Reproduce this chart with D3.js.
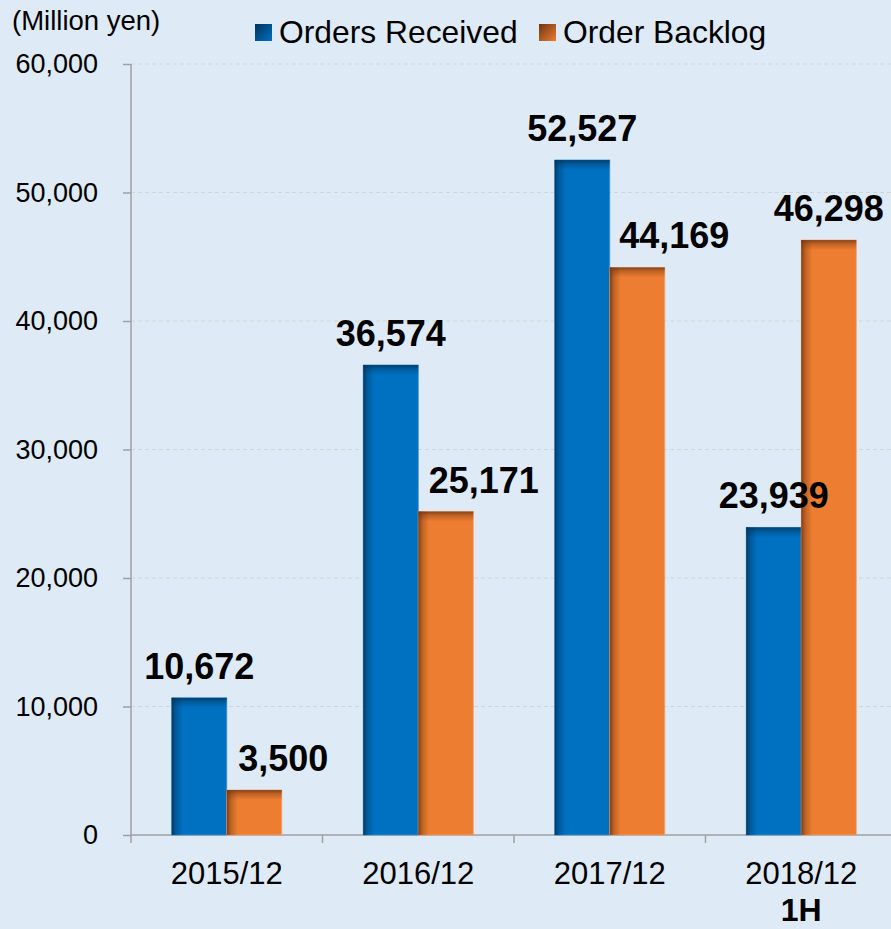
<!DOCTYPE html>
<html><head><meta charset="utf-8">
<script src="https://cdn.jsdelivr.net/npm/d3@7"></script>
<style>
html,body{margin:0;padding:0;background:#DEEAF6;}
svg{display:block;font-family:Arial,"Liberation Sans",sans-serif;}
</style></head>
<body>
<svg id="chart" width="891" height="929"></svg>
<script>
const categories = ["2015/12","2016/12","2017/12","2018/12"];
const subLabels = ["","","","1H"];
const seriesNames = ["Orders Received","Order Backlog"];
const ordersReceived = [10672, 36574, 52527, 23939];
const orderBacklog = [3500, 25171, 44169, 46298];
const yTicks = [0,10000,20000,30000,40000,50000,60000];
const unitLabel = "(Million yen)";

// layout / style config
const backlogLabelShift = [29, 38, 37, 0];
const colors = {blue:"#0070C0", blueDark:"#00335A", orange:"#ED7D31", orangeDark:"#6E3410"};

const svg = d3.select("#chart");
svg.append("rect").attr("width",891).attr("height",929).attr("fill","#DEEAF6");

const pLeft = 131, pRight = 897, pTop = 64, pBottom = 835;
const x0 = d3.scaleBand().domain(categories).range([pLeft, pRight]).padding(0);
const x1 = d3.scaleBand().domain(seriesNames).range([0, x0.bandwidth()]).paddingInner(0).paddingOuter(0.74);
const y = d3.scaleLinear().domain([0,60000]).range([pBottom, pTop]);

const defs = svg.append("defs");
function grads(id, dark){
  const h = defs.append("linearGradient").attr("id",id+"L").attr("x1","0").attr("x2","1").attr("y1","0").attr("y2","0");
  h.append("stop").attr("offset","0").attr("stop-color",dark).attr("stop-opacity",0.85);
  h.append("stop").attr("offset","0.4").attr("stop-color",dark).attr("stop-opacity",0.35);
  h.append("stop").attr("offset","1").attr("stop-color",dark).attr("stop-opacity",0);
  const v = defs.append("linearGradient").attr("id",id+"T").attr("x1","0").attr("x2","0").attr("y1","0").attr("y2","1");
  v.append("stop").attr("offset","0").attr("stop-color",dark).attr("stop-opacity",0.8);
  v.append("stop").attr("offset","0.4").attr("stop-color",dark).attr("stop-opacity",0.35);
  v.append("stop").attr("offset","1").attr("stop-color",dark).attr("stop-opacity",0);
}
grads("gb", colors.blueDark);
grads("go", colors.orangeDark);

// gridlines
svg.append("g").selectAll("line").data(yTicks.filter(d=>d>0)).join("line")
  .attr("x1",pLeft).attr("x2",891).attr("y1",d=>y(d)).attr("y2",d=>y(d))
  .attr("stroke","#D2D6DA").attr("stroke-width",1).attr("stroke-dasharray","4,3");

// y axis
const yAxis = d3.axisLeft(y).tickValues(yTicks).tickFormat(d3.format(",")).tickSize(8).tickPadding(25);
const ya = svg.append("g").attr("transform",`translate(${pLeft},0)`).call(yAxis);
ya.select(".domain").attr("stroke","#A0A0A0").attr("stroke-width",1.5).attr("d",`M0,${pTop}V${pBottom}`);
ya.selectAll(".tick line").attr("stroke","#A0A0A0").attr("stroke-width",1.5);
ya.selectAll(".tick text").attr("font-size",27).attr("fill","#000").attr("font-family","Arial, 'Liberation Sans', sans-serif");

// x axis
svg.append("line").attr("x1",pLeft).attr("x2",891).attr("y1",pBottom).attr("y2",pBottom).attr("stroke","#A0A0A0").attr("stroke-width",1.5);
svg.append("g").selectAll("line").data(categories).join("line")
  .attr("x1",d=>x0(d)).attr("x2",d=>x0(d)).attr("y1",pBottom).attr("y2",pBottom+8)
  .attr("stroke","#A0A0A0").attr("stroke-width",1.5);
svg.append("g").selectAll("text").data(categories).join("text")
  .attr("x",d=>x0(d)+x0.bandwidth()/2).attr("y",884).attr("text-anchor","middle")
  .attr("font-size",31).attr("fill","#000").text(d=>d);
svg.append("g").selectAll("text").data(subLabels).join("text")
  .attr("x",(d,i)=>x0(categories[i])+x0.bandwidth()/2).attr("y",921).attr("text-anchor","middle")
  .attr("font-size",32).attr("font-weight","bold").attr("fill","#000").text(d=>d);

// bars
const data = [];
categories.forEach((c,i)=>{
  data.push({cat:c, s:seriesNames[0], v:ordersReceived[i], i, k:"b"});
  data.push({cat:c, s:seriesNames[1], v:orderBacklog[i], i, k:"o"});
});
const bw = x1.bandwidth();
const bars = svg.append("g").selectAll("g").data(data).join("g")
  .attr("transform",d=>`translate(${x0(d.cat)+x1(d.s)},0)`);
bars.append("rect").attr("x",0).attr("y",d=>y(d.v)).attr("width",bw).attr("height",d=>y(0)-y(d.v))
  .attr("fill",d=>d.k==="b"?colors.blue:colors.orange)
  .attr("stroke",d=>d.k==="b"?"#3A8FD0":"#F2A070").attr("stroke-width",0.8);
bars.append("rect").attr("x",0).attr("y",d=>y(d.v)).attr("width",11).attr("height",d=>y(0)-y(d.v))
  .attr("fill",d=>`url(#g${d.k}L)`);
bars.append("rect").attr("x",0).attr("y",d=>y(d.v)).attr("width",bw).attr("height",d=>Math.min(10,y(0)-y(d.v)))
  .attr("fill",d=>`url(#g${d.k}T)`);

// value labels
svg.append("g").selectAll("text").data(data).join("text")
  .attr("x",d=>x0(d.cat)+x1(d.s)+bw/2+(d.k==="o"?backlogLabelShift[d.i]:0))
  .attr("y",d=>y(d.v)-19).attr("text-anchor","middle")
  .attr("font-size",36).attr("font-weight","bold").attr("fill","#000")
  .text(d=>d3.format(",")(d.v));

// unit label
svg.append("text").attr("x",12).attr("y",30).attr("font-size",27.5).attr("fill","#000").text(unitLabel);

// legend
const legend = svg.append("g");
const legX = [255, 539];
const legFill = [colors.blue, colors.orange];
const legDark = [colors.blueDark, colors.orangeDark];
seriesNames.forEach((s,i)=>{
  const lg = defs.append("linearGradient").attr("id","leg"+i).attr("x1","0").attr("y1","0").attr("x2","1").attr("y2","1");
  lg.append("stop").attr("offset","0").attr("stop-color",legDark[i]);
  lg.append("stop").attr("offset","1").attr("stop-color",legFill[i]);
  legend.append("rect").attr("x",legX[i]).attr("y",24).attr("width",17).attr("height",17).attr("fill",`url(#leg${i})`);
  legend.append("text").attr("x",legX[i]+24).attr("y",43).attr("font-size",31.8).attr("fill","#000").text(s);
});
</script>
</body></html>
